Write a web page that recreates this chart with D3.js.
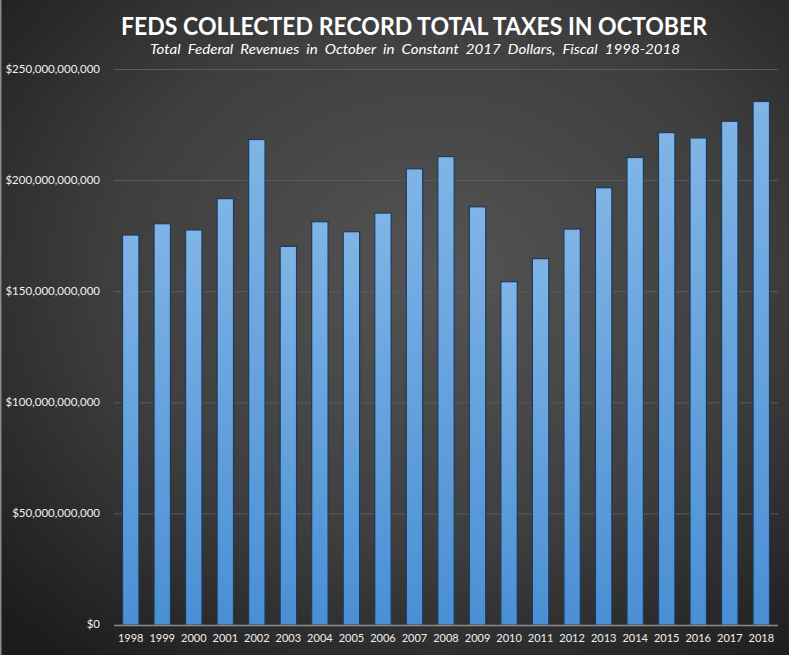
<!DOCTYPE html>
<html>
<head>
<meta charset="utf-8">
<script src="https://cdn.jsdelivr.net/npm/d3@7"></script>
<style>
html, body { margin: 0; padding: 0; background: #2b2b2b; }
svg { display: block; }
.tick-y text, .tick-x text { font-family: Lato, "Open Sans", sans-serif; }
</style>
</head>
<body>
<svg id="myGraph"></svg>
<script>
window.addEventListener("load", function(){
var svgWidth = 789;
var svgHeight = 655;

// data
var years = ["1998","1999","2000","2001","2002","2003","2004","2005","2006","2007","2008",
             "2009","2010","2011","2012","2013","2014","2015","2016","2017","2018"];
// revenues, billions of constant 2017 dollars
var revenues = [175.5, 180.6, 177.8, 191.9, 218.5, 170.4, 181.5, 177.0, 185.4, 205.3, 210.8,
                188.2, 154.5, 164.9, 178.2, 196.8, 210.4, 221.6, 219.2, 226.7, 235.6];
var yTicks = [0, 50, 100, 150, 200, 250];

var titleText = "FEDS COLLECTED RECORD TOTAL TAXES IN OCTOBER";
var subtitleText = "Total  Federal  Revenues  in  October  in  Constant  2017  Dollars,  Fiscal  1998-2018";

var plotLeft = 114, plotRight = 778, plotTop = 69.5, plotBottom = 625;

var svg = d3.select("#myGraph").attr("width", svgWidth).attr("height", svgHeight);
var defs = svg.append("defs");

// background gradient
var bg = defs.append("radialGradient").attr("id", "bgGrad")
  .attr("cx", "55%").attr("cy", "42%").attr("r", "75%");
bg.append("stop").attr("offset", "0%").attr("stop-color", "#545454");
bg.append("stop").attr("offset", "55%").attr("stop-color", "#3e3e3e");
bg.append("stop").attr("offset", "100%").attr("stop-color", "#1c1c1c");

var barGrad = defs.append("linearGradient").attr("id", "barGrad")
  .attr("x1", 0).attr("y1", 0).attr("x2", 0).attr("y2", 1);
barGrad.append("stop").attr("offset", "0%").attr("stop-color", "#80b4e6");
barGrad.append("stop").attr("offset", "100%").attr("stop-color", "#4a8fd4");

svg.append("rect").attr("width", svgWidth).attr("height", svgHeight).attr("fill", "url(#bgGrad)");
svg.append("rect").attr("x", 0).attr("y", 0).attr("width", 1.5).attr("height", svgHeight).attr("fill", "#8a8a8a");

// scales
var xScale = d3.scaleBand().domain(years).range([plotLeft, plotRight])
  .paddingInner(0.48).paddingOuter(0.27);
var yScale = d3.scaleLinear().domain([0, 250]).range([plotBottom, plotTop]);

// gridlines
svg.append("g").selectAll("line").data(yTicks.slice(1)).enter()
  .append("line")
  .attr("x1", plotLeft).attr("x2", plotRight)
  .attr("y1", function(d){ return yScale(d); })
  .attr("y2", function(d){ return yScale(d); })
  .attr("stroke", "#5c5c5c").attr("stroke-width", 1);

// bars
svg.append("g").selectAll("rect").data(revenues).enter()
  .append("rect")
  .attr("x", function(d, i){ return xScale(years[i]); })
  .attr("y", function(d){ return yScale(d); })
  .attr("width", xScale.bandwidth())
  .attr("height", function(d){ return plotBottom - yScale(d); })
  .attr("fill", "url(#barGrad)")
  .attr("stroke", "#1d3b5c").attr("stroke-width", 1.2);

// x axis line
svg.append("line").attr("x1", plotLeft).attr("x2", plotRight)
  .attr("y1", plotBottom + 0.5).attr("y2", plotBottom + 0.5)
  .attr("stroke", "#8c8c8c").attr("stroke-width", 1.5);

// y axis labels
var fmt = d3.format(",");
var yAxis = d3.axisLeft(yScale).tickValues(yTicks).tickSize(0).tickPadding(0)
  .tickFormat(function(d){ return "$" + fmt(d * 1e9); });
var gy = svg.append("g").attr("class", "tick-y")
  .attr("transform", "translate(100,-1)")
  .call(yAxis);
gy.select(".domain").remove();
gy.selectAll("text").attr("fill", "#f0f0f0").style("font-size", "11.5px");

// x axis labels
var xAxis = d3.axisBottom(xScale).tickSize(0).tickPadding(0);
var gx = svg.append("g").attr("class", "tick-x")
  .attr("transform", "translate(0,634)")
  .call(xAxis);
gx.select(".domain").remove();
gx.selectAll("text").attr("fill", "#f0f0f0").style("font-size", "11px");

// titles
svg.append("text").text(titleText)
  .attr("x", 121).attr("y", 35)
  .attr("textLength", 586).attr("lengthAdjust", "spacingAndGlyphs")
  .attr("fill", "#ffffff")
  .style("font-family", "Lato, 'Open Sans', sans-serif")
  .style("font-weight", "bold").style("font-size", "25px");

svg.append("text").text(subtitleText)
  .attr("x", 150).attr("y", 54)
  .attr("textLength", 530).attr("lengthAdjust", "spacingAndGlyphs")
  .attr("fill", "#ffffff")
  .style("white-space", "pre")
  .style("font-family", "Lato, 'Open Sans', sans-serif")
  .style("font-style", "italic").style("font-size", "13.5px");
});
</script>
</body>
</html>
